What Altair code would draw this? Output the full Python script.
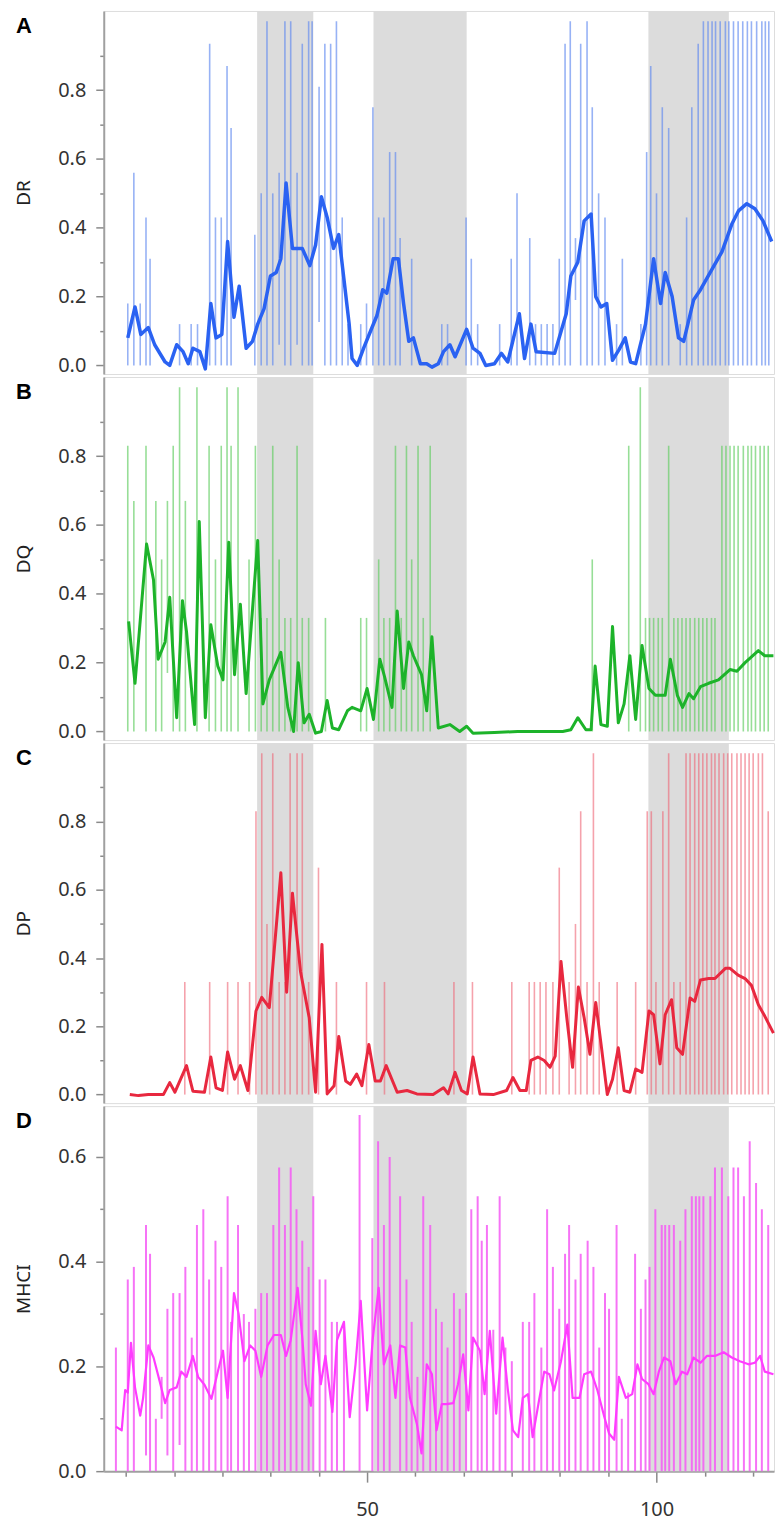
import altair as alt
import pandas as pd

X_DOMAIN = [4.5, 120.3]
BANDS = [(31.0, 40.7), (51.1, 67.2), (98.6, 112.5)]
X_TICKS = [8.333, 16.667, 25, 33.333, 41.667, 50, 58.333, 66.667, 75, 83.333, 91.667, 100, 108.333, 116.667]
Y_TICKS_ABC = [0.0, 0.1, 0.2, 0.3, 0.4, 0.5, 0.6, 0.7, 0.8, 0.9]
Y_TICKS_D = [0.0, 0.1, 0.2, 0.3, 0.4, 0.5, 0.6]

# ---- Panel A: DR ----
DR_LINE = [(8.65, 0.08), (9.9, 0.17), (10.9, 0.09), (12.2, 0.11), (13.3, 0.06), (15.1, 0.01), (15.9, 0.0),
           (17.1, 0.06), (18.2, 0.04), (19.1, 0.005), (19.9, 0.05), (21.1, 0.04), (22.05, -0.01), (23.0, 0.18),
           (23.9, 0.08), (24.9, 0.09), (25.9, 0.36), (27.0, 0.14), (27.9, 0.23), (29.1, 0.05), (30.2, 0.07),
           (31.1, 0.12), (32.2, 0.165), (33.3, 0.26), (34.3, 0.27), (35.1, 0.31), (36.0, 0.53), (37.1, 0.34),
           (38.8, 0.34), (40.1, 0.29), (41.1, 0.35), (42.1, 0.49), (43.1, 0.43), (44.2, 0.34), (45.1, 0.38),
           (46.9, 0.12), (47.4, 0.02), (48.3, 0.0), (49.4, 0.05), (50.6, 0.10), (51.7, 0.145), (52.7, 0.22),
           (53.4, 0.21), (54.5, 0.31), (55.4, 0.31), (56.3, 0.18), (57.2, 0.07), (58.0, 0.08), (59.2, 0.005),
           (60.3, 0.005), (61.2, -0.005), (62.3, 0.005), (63.2, 0.04), (64.3, 0.06), (65.2, 0.025), (67.2, 0.105),
           (68.3, 0.05), (69.5, 0.035), (70.5, 0.0), (72.0, 0.005), (73.2, 0.035), (74.3, 0.01), (76.3, 0.15),
           (77.2, 0.02), (78.3, 0.12), (79.2, 0.04), (82.4, 0.035), (84.4, 0.15), (85.2, 0.26), (86.4, 0.3),
           (87.5, 0.42), (88.7, 0.44), (89.5, 0.2), (90.4, 0.17), (91.4, 0.18), (92.4, 0.015), (93.5, 0.045),
           (94.6, 0.08), (95.5, 0.01), (96.4, 0.005), (98.1, 0.12), (99.5, 0.31), (100.7, 0.18), (101.5, 0.27),
           (102.7, 0.2), (103.8, 0.08), (104.7, 0.07), (106.4, 0.19), (107.6, 0.22), (109.6, 0.28), (111.3, 0.33),
           (113.0, 0.41), (114.2, 0.45), (115.6, 0.47), (117.0, 0.455), (118.4, 0.42), (119.9, 0.36)]
DR_BARS = [(8.65, 0.18, 0), (9.7, 0.56, 0), (10.8, 0.18, 0), (11.8, 0.43, 0), (12.5, 0.31, 0), (17.6, 0.12, 0),
           (19.6, 0.12, 0), (20.7, 0.12, 0), (22.8, 0.935, 0), (23.8, 0.43, 0), (24.8, 0.43, 0), (25.8, 0.87, 0),
           (26.5, 0.69, 0), (30.6, 0.38, 0), (31.7, 0.5, 0), (32.7, 1.0, 0), (33.7, 0.5, 0), (34.8, 0.56, 0.06),
           (35.8, 1.0, 0), (36.8, 1.0, 0), (37.9, 0.56, 0.06), (38.8, 0.935, 0), (39.9, 1.0, 0), (40.5, 1.0, 0),
           (41.7, 0.81, 0.126), (42.7, 0.935, 0), (43.7, 0.935, 0), (44.7, 1.0, 0), (45.7, 0.43, 0), (46.7, 0.12, 0),
           (48.9, 0.12, 0), (49.9, 0.18, 0), (51.0, 0.75, 0), (52.0, 0.43, 0), (52.9, 0.43, 0), (53.9, 0.62, 0),
           (54.9, 0.62, 0), (55.7, 0.37, 0), (57.7, 0.31, 0), (62.9, 0.12, 0), (63.9, 0.12, 0), (67.1, 0.43, 0),
           (68.0, 0.31, 0), (69.1, 0.12, 0), (72.9, 0.12, 0), (74.9, 0.31, 0), (75.9, 0.5, 0), (78.1, 0.37, 0),
           (79.1, 0.12, 0), (80.1, 0.12, 0), (81.1, 0.12, 0), (82.1, 0.12, 0), (83.2, 0.31, 0), (84.2, 0.935, 0),
           (85.1, 1.0, 0), (86.0, 0.37, 0.19), (86.9, 0.935, 0), (88.0, 1.0, 0), (88.9, 0.75, 0), (90.0, 0.5, 0),
           (91.1, 0.43, 0), (93.1, 0.12, 0), (94.1, 0.31, 0), (97.3, 0.12, 0), (98.3, 0.62, 0), (99.0, 0.87, 0),
           (100.0, 0.5, 0), (101.0, 0.75, 0), (102.1, 0.69, 0), (104.1, 0.12, 0), (105.2, 0.43, 0), (106.1, 0.75, 0),
           (107.2, 0.935, 0), (108.1, 1.0, 0), (108.9, 1.0, 0), (109.6, 1.0, 0), (110.2, 1.0, 0), (111.0, 1.0, 0),
           (111.9, 1.0, 0), (112.5, 1.0, 0), (113.3, 1.0, 0), (114.1, 1.0, 0), (114.9, 1.0, 0), (115.7, 1.0, 0),
           (116.4, 1.0, 0), (117.3, 1.0, 0), (118.2, 1.0, 0), (118.8, 1.0, 0), (119.4, 1.0, 0)]

# ---- Panel B: DQ ----
DQ_LINE = [(8.8, 0.32), (9.9, 0.14), (11.9, 0.545), (13.1, 0.44), (13.9, 0.21), (15.1, 0.26), (15.9, 0.39),
           (17.1, 0.04), (18.1, 0.38), (18.8, 0.29), (20.2, 0.02), (21.0, 0.61), (22.05, 0.04), (23.0, 0.31),
           (24.2, 0.19), (25.1, 0.15), (26.1, 0.55), (27.1, 0.165), (28.1, 0.37), (29.1, 0.11), (31.1, 0.555),
           (32.0, 0.08), (33.1, 0.15), (35.1, 0.23), (36.3, 0.07), (37.3, 0.0), (38.1, 0.2), (39.1, 0.025),
           (40.0, 0.05), (41.1, -0.005), (42.1, 0.0), (43.1, 0.09), (44.0, 0.01), (45.1, 0.005), (46.6, 0.06),
           (47.4, 0.07), (48.9, 0.06), (50.0, 0.125), (51.1, 0.035), (52.2, 0.21), (53.0, 0.16), (54.3, 0.07),
           (55.2, 0.35), (56.3, 0.125), (57.2, 0.26), (58.0, 0.22), (59.4, 0.165), (60.3, 0.06), (61.2, 0.275),
           (62.3, 0.01), (64.3, 0.02), (66.0, 0.0), (67.2, 0.015), (68.3, -0.005), (72.0, -0.003), (76.0, 0.0),
           (80.0, 0.0), (83.8, 0.0), (85.2, 0.005), (86.4, 0.04), (87.8, 0.005), (88.7, 0.005), (89.4, 0.19),
           (90.4, 0.02), (91.5, 0.015), (92.4, 0.305), (93.4, 0.025), (94.4, 0.08), (95.4, 0.22), (96.4, 0.035),
           (97.5, 0.25), (98.7, 0.125), (99.8, 0.105), (101.5, 0.105), (102.4, 0.21), (103.6, 0.105),
           (104.5, 0.07), (105.6, 0.11), (106.4, 0.095), (107.6, 0.13), (109.0, 0.14), (110.7, 0.15),
           (112.7, 0.18), (113.9, 0.175), (115.3, 0.2), (117.6, 0.235), (118.7, 0.22), (120.2, 0.22)]
DQ_BARS = [(8.65, 0.83, 0), (9.7, 0.67, 0), (11.8, 0.83, 0), (13.5, 0.67, 0), (14.5, 0.5, 0), (15.5, 0.67, 0.17),
           (16.5, 0.83, 0), (17.6, 1.0, 0), (18.6, 0.67, 0), (20.6, 1.0, 0), (22.7, 0.83, 0), (23.8, 0.5, 0),
           (24.8, 0.83, 0), (25.8, 1.0, 0), (26.5, 0.83, 0), (27.7, 1.0, 0), (29.6, 0.5, 0), (30.7, 0.83, 0),
           (31.7, 0.33, 0), (32.7, 0.33, 0), (33.7, 0.83, 0), (34.8, 0.5, 0), (35.8, 0.33, 0), (36.8, 0.33, 0),
           (37.9, 0.83, 0), (38.8, 0.33, 0), (39.9, 0.33, 0), (42.8, 0.33, 0), (48.9, 0.33, 0), (49.9, 0.33, 0),
           (52.0, 0.5, 0), (52.9, 0.33, 0), (53.9, 0.33, 0), (54.9, 0.83, 0), (55.9, 0.33, 0), (56.8, 0.83, 0),
           (57.7, 0.5, 0), (58.8, 0.83, 0), (59.7, 0.33, 0), (60.9, 0.83, 0), (88.9, 0.5, 0), (95.2, 0.83, 0),
           (97.2, 1.0, 0), (98.1, 0.33, 0), (98.8, 0.33, 0), (99.5, 0.33, 0), (100.3, 0.33, 0), (101.0, 0.33, 0),
           (102.1, 0.83, 0), (103.0, 0.33, 0), (103.7, 0.33, 0), (104.4, 0.33, 0), (105.1, 0.33, 0),
           (105.8, 0.33, 0), (106.6, 0.33, 0), (107.3, 0.33, 0), (108.0, 0.33, 0), (108.7, 0.33, 0),
           (109.5, 0.33, 0), (110.1, 0.33, 0), (111.3, 0.83, 0), (112.0, 0.83, 0), (112.7, 0.83, 0),
           (113.4, 0.83, 0), (114.1, 0.83, 0), (115.0, 0.83, 0), (115.8, 0.83, 0), (116.4, 0.83, 0),
           (117.1, 0.83, 0), (117.9, 0.83, 0), (118.6, 0.83, 0), (119.3, 0.83, 0)]

# ---- Panel C: DP ----
DP_LINE = [(9.0, 0.0), (10.5, -0.003), (12.2, 0.0), (14.8, 0.0), (15.9, 0.035), (16.8, 0.007), (18.8, 0.085),
           (19.9, 0.01), (21.9, 0.007), (23.0, 0.11), (23.9, 0.02), (25.0, 0.012), (25.9, 0.125), (27.1, 0.045),
           (28.1, 0.085), (29.4, 0.012), (30.8, 0.245), (31.8, 0.285), (33.1, 0.255), (35.1, 0.65), (36.1, 0.30),
           (37.1, 0.59), (38.5, 0.36), (40.0, 0.225), (41.1, 0.007), (42.2, 0.44), (43.1, 0.002), (44.3, 0.026),
           (45.1, 0.17), (46.3, 0.04), (47.1, 0.03), (48.2, 0.06), (49.1, 0.026), (50.3, 0.147), (51.4, 0.04),
           (52.3, 0.04), (53.3, 0.085), (55.2, 0.007), (56.9, 0.012), (58.6, 0.002), (61.4, 0.0), (63.2, 0.02),
           (64.0, 0.002), (65.2, 0.065), (66.3, 0.012), (67.3, 0.002), (68.3, 0.11), (69.5, 0.002), (71.8, 0.0),
           (74.1, 0.012), (75.2, 0.05), (76.4, 0.012), (77.5, 0.012), (78.3, 0.1), (79.5, 0.11), (80.6, 0.1),
           (81.6, 0.08), (82.5, 0.113), (83.5, 0.39), (84.5, 0.225), (85.5, 0.08), (86.5, 0.315), (87.5, 0.225),
           (88.5, 0.118), (89.5, 0.27), (90.5, 0.137), (91.5, 0.0), (92.4, 0.045), (93.4, 0.137), (94.4, 0.012),
           (95.4, 0.007), (96.4, 0.075), (97.5, 0.065), (98.7, 0.245), (99.5, 0.234), (100.6, 0.09),
           (101.5, 0.234), (102.6, 0.278), (103.5, 0.137), (104.5, 0.118), (105.8, 0.283), (106.6, 0.273),
           (107.6, 0.336), (109.0, 0.34), (110.1, 0.34), (111.9, 0.37), (112.7, 0.37), (114.1, 0.35),
           (115.3, 0.34), (116.4, 0.32), (117.6, 0.263), (118.7, 0.23), (120.2, 0.18)]
DP_BARS = [(18.5, 0.33, 0), (22.8, 0.33, 0), (25.9, 0.33, 0), (27.7, 0.33, 0), (29.7, 0.33, 0), (30.8, 0.83, 0),
           (31.8, 1.0, 0), (32.7, 0.5, 0), (33.7, 1.0, 0), (34.8, 0.33, 0), (35.8, 0.33, 0), (36.7, 1.0, 0),
           (37.9, 1.0, 0), (38.8, 1.0, 0), (39.9, 0.33, 0), (41.6, 0.665, 0), (44.7, 0.33, 0), (49.9, 0.33, 0),
           (53.0, 0.33, 0), (65.0, 0.33, 0), (68.2, 0.33, 0), (75.0, 0.33, 0), (78.0, 0.33, 0), (78.9, 0.33, 0),
           (79.9, 0.33, 0), (80.9, 0.33, 0), (82.1, 0.33, 0), (83.2, 0.665, 0), (84.9, 0.33, 0), (86.0, 0.5, 0),
           (86.9, 0.83, 0), (88.0, 0.33, 0), (89.1, 1.0, 0), (90.1, 0.33, 0), (93.2, 0.33, 0), (96.4, 0.33, 0),
           (98.4, 0.83, 0), (99.1, 0.83, 0), (99.9, 0.33, 0), (101.1, 0.83, 0), (102.1, 1.0, 0), (103.0, 0.33, 0),
           (104.1, 0.33, 0), (105.1, 1.0, 0), (105.8, 1.0, 0), (106.6, 1.0, 0), (107.3, 1.0, 0), (108.0, 1.0, 0),
           (108.7, 1.0, 0), (109.5, 1.0, 0), (110.1, 1.0, 0), (110.8, 1.0, 0), (111.6, 1.0, 0), (112.3, 1.0, 0),
           (113.0, 1.0, 0), (113.9, 1.0, 0), (114.6, 1.0, 0), (115.3, 1.0, 0), (116.0, 1.0, 0), (116.7, 1.0, 0),
           (117.6, 1.0, 0), (118.3, 1.0, 0), (119.3, 0.83, 0)]

# ---- Panel D: MHCI ----
MHC_LINE = [(6.6, 0.085), (7.6, 0.078), (8.2, 0.155), (8.65, 0.15), (9.2, 0.245), (9.9, 0.16), (10.8, 0.106),
            (11.3, 0.14), (12.2, 0.24), (13.1, 0.217), (14.2, 0.17), (15.1, 0.13), (15.9, 0.155), (17.1, 0.16),
            (17.9, 0.19), (18.8, 0.18), (19.9, 0.22), (20.8, 0.18), (21.9, 0.165), (23.1, 0.138), (24.2, 0.19),
            (25.1, 0.23), (25.9, 0.14), (27.0, 0.34), (27.8, 0.30), (28.8, 0.21), (29.8, 0.24), (30.7, 0.23),
            (31.7, 0.18), (32.8, 0.24), (33.9, 0.26), (35.1, 0.26), (36.0, 0.22), (36.8, 0.25), (38.0, 0.35),
            (38.8, 0.255), (39.4, 0.166), (40.3, 0.125), (41.1, 0.268), (42.0, 0.166), (42.8, 0.22), (44.0, 0.113),
            (44.8, 0.25), (46.0, 0.285), (47.0, 0.103), (48.0, 0.204), (48.9, 0.325), (50.0, 0.116), (51.0, 0.255),
            (52.0, 0.35), (52.9, 0.204), (54.0, 0.24), (54.9, 0.14), (55.7, 0.24), (56.6, 0.236), (57.4, 0.14),
            (58.6, 0.09), (59.4, 0.034), (60.3, 0.204), (61.2, 0.185), (62.0, 0.078), (62.9, 0.128), (63.7, 0.128),
            (64.9, 0.13), (65.7, 0.166), (66.6, 0.223), (67.5, 0.116), (68.3, 0.255), (69.5, 0.23), (70.3, 0.147),
            (71.2, 0.268), (72.3, 0.11), (73.4, 0.255), (74.3, 0.157), (75.2, 0.078), (76.1, 0.065), (76.9, 0.14),
            (77.8, 0.147), (78.6, 0.065), (79.7, 0.135), (80.6, 0.19), (81.5, 0.185), (82.3, 0.154), (83.5, 0.21),
            (84.6, 0.28), (85.5, 0.14), (86.7, 0.14), (87.5, 0.185), (88.7, 0.19), (89.8, 0.154), (91.0, 0.103),
            (91.8, 0.072), (92.7, 0.06), (93.5, 0.18), (94.7, 0.14), (95.8, 0.147), (96.7, 0.204), (97.5, 0.176),
            (98.6, 0.166), (99.5, 0.147), (100.4, 0.19), (101.3, 0.217), (102.4, 0.21), (103.3, 0.166),
            (104.4, 0.19), (105.3, 0.185), (106.4, 0.217), (107.6, 0.207), (108.7, 0.22), (110.1, 0.22),
            (111.6, 0.227), (113.0, 0.217), (114.4, 0.21), (115.9, 0.204), (117.0, 0.207), (117.9, 0.22),
            (118.7, 0.19), (120.2, 0.185)]
MHC_BARS = [(6.6, 0.236, 0), (8.65, 0.366, 0), (9.7, 0.39, 0), (11.8, 0.47, 0.03), (12.5, 0.415, 0),
            (13.5, 0.10, 0), (14.5, 0.18, 0.10), (15.5, 0.31, 0.03), (16.5, 0.34, 0), (17.6, 0.34, 0.05),
            (18.6, 0.39, 0), (19.7, 0.255, 0), (20.6, 0.47, 0), (21.7, 0.5, 0), (22.7, 0.366, 0), (23.8, 0.44, 0),
            (24.8, 0.39, 0), (25.9, 0.525, 0), (26.5, 0.285, 0), (27.7, 0.47, 0), (28.7, 0.3, 0), (29.6, 0.285, 0),
            (30.7, 0.31, 0), (31.7, 0.34, 0), (32.7, 0.34, 0), (33.8, 0.47, 0), (34.8, 0.58, 0), (35.8, 0.47, 0),
            (36.8, 0.58, 0), (37.8, 0.5, 0), (38.8, 0.44, 0), (39.9, 0.39, 0), (40.7, 0.525, 0), (41.8, 0.366, 0),
            (42.8, 0.366, 0), (43.9, 0.285, 0), (44.8, 0.285, 0), (46.0, 0.285, 0), (48.7, 0.68, 0),
            (50.9, 0.445, 0), (51.9, 0.63, 0), (52.9, 0.47, 0), (53.9, 0.6, 0), (55.7, 0.525, 0), (56.8, 0.366, 0),
            (57.7, 0.285, 0), (58.7, 0.18, 0), (59.7, 0.525, 0), (60.9, 0.47, 0), (61.9, 0.31, 0), (62.9, 0.285, 0),
            (63.9, 0.236, 0), (65.0, 0.34, 0), (66.0, 0.31, 0), (67.1, 0.34, 0), (68.0, 0.5, 0), (69.1, 0.525, 0),
            (69.8, 0.44, 0), (70.7, 0.47, 0), (71.8, 0.27, 0), (72.9, 0.525, 0), (73.9, 0.236, 0), (75.0, 0.21, 0),
            (76.9, 0.285, 0), (78.0, 0.285, 0), (78.9, 0.34, 0), (80.1, 0.236, 0), (81.1, 0.5, 0), (82.1, 0.39, 0),
            (83.2, 0.31, 0), (84.2, 0.415, 0), (84.9, 0.47, 0), (86.0, 0.366, 0), (86.9, 0.415, 0), (88.1, 0.44, 0),
            (89.1, 0.39, 0), (90.1, 0.236, 0), (91.1, 0.34, 0), (91.8, 0.31, 0), (93.1, 0.47, 0), (94.0, 0.1, 0),
            (95.1, 0.15, 0), (96.3, 0.415, 0), (97.3, 0.31, 0), (98.1, 0.366, 0), (98.8, 0.39, 0), (99.8, 0.5, 0),
            (100.9, 0.47, 0), (101.5, 0.47, 0), (102.2, 0.47, 0), (103.0, 0.47, 0), (104.1, 0.44, 0),
            (105.0, 0.5, 0), (106.1, 0.525, 0), (106.8, 0.525, 0), (107.4, 0.525, 0), (108.1, 0.525, 0),
            (109.3, 0.525, 0), (110.1, 0.58, 0), (111.3, 0.58, 0), (112.4, 0.525, 0), (113.3, 0.58, 0),
            (114.1, 0.58, 0), (115.1, 0.525, 0), (116.1, 0.63, 0), (117.2, 0.55, 0), (118.2, 0.5, 0),
            (119.3, 0.47, 0)]

FONT = "Noto Sans"
WIDTH = 672


def y_axis(title, ticks):
    major = "abs(datum.value * 5 - round(datum.value * 5)) < 0.01"
    return alt.Axis(
        values=ticks, title=title, grid=False,
        labelExpr=f"({major}) ? format(datum.value, '.1f') : ''",
        tickSize={"condition": {"test": major, "value": 8}, "value": 4},
        tickColor="#8a8a8a", tickWidth=1.5,
        domainColor="#a0a0a0", domainWidth=2,
        labelFont=FONT, labelFontSize=20, labelColor="#333333", labelPadding=10,
        titleFont=FONT, titleFontSize=19, titleFontWeight="normal", titleColor="#222222",
        titlePadding=24,
    )


def x_axis():
    major = "abs(datum.value - 50) < 0.5 || abs(datum.value - 100) < 0.5"
    return alt.Axis(
        values=X_TICKS, title=None, grid=False,
        labelExpr=f"({major}) ? format(datum.value, 'd') : ''",
        tickSize={"condition": {"test": major, "value": 11}, "value": 5},
        tickColor="#8a8a8a", tickWidth=1.5,
        domainColor="#a0a0a0", domainWidth=2,
        labelFont=FONT, labelFontSize=20, labelColor="#333333", labelPadding=17,
    )


def panel(line, bars, title, letter, line_color, line_width, bar_color, bar_opacity, bar_width,
          ydomain, yticks, height, show_x):
    line_df = pd.DataFrame(line, columns=["x", "y"])
    bar_df = pd.DataFrame(bars, columns=["x", "hi", "lo"])
    band_df = pd.DataFrame(BANDS, columns=["x0", "x1"])
    xs = alt.Scale(domain=X_DOMAIN, nice=False, zero=False)
    ys = alt.Scale(domain=ydomain, nice=False, zero=False)
    xa = x_axis() if show_x else None
    ya = y_axis(title, yticks)

    bands = alt.Chart(band_df).mark_rect(color="#dcdcdc").encode(
        x=alt.X("x0:Q", scale=xs, axis=xa), x2="x1:Q",
        y=alt.value(0), y2=alt.value(height),
    )
    rules = alt.Chart(bar_df).mark_rule(color=bar_color, opacity=bar_opacity, strokeWidth=bar_width).encode(
        x=alt.X("x:Q", scale=xs, axis=xa),
        y=alt.Y("lo:Q", scale=ys, axis=ya), y2="hi:Q",
    )
    ln = alt.Chart(line_df).mark_line(color=line_color, strokeWidth=line_width, strokeJoin="round").encode(
        x=alt.X("x:Q", scale=xs, axis=xa),
        y=alt.Y("y:Q", scale=ys, axis=ya),
    )
    lab = alt.Chart(pd.DataFrame({"t": [letter]})).mark_text(
        font="Liberation Sans", fontSize=22, fontWeight="bold", color="#000000",
        align="center", baseline="alphabetic",
    ).encode(text="t:N", x=alt.value(-80), y=alt.value(22))
    return alt.layer(bands, rules, ln, lab).properties(width=WIDTH, height=height)


pA = panel(DR_LINE, DR_BARS, "DR", "A", "#2a62f2", 3.5, "#5f88ef", 0.65, 1.6,
           [-0.025, 1.03], Y_TICKS_ABC, 364, False)
pB = panel(DQ_LINE, DQ_BARS, "DQ", "B", "#1db32a", 3, "#5fcc5f", 0.65, 1.6,
           [-0.025, 1.03], Y_TICKS_ABC, 364, False)
pC = panel(DP_LINE, DP_BARS, "DP", "C", "#e8283f", 3, "#ee6474", 0.6, 1.6,
           [-0.025, 1.03], Y_TICKS_ABC, 361, False)
pD = panel(MHC_LINE, MHC_BARS, "MHCI", "D", "#ff3cff", 2.2, "#f55af5", 0.85, 2,
           [0, 0.697], Y_TICKS_D, 366, True)

chart = alt.vconcat(pA, pB, pC, pD, spacing=3, bounds="flush").properties(
    padding={"left": 6, "top": 0, "right": 0, "bottom": 0}
).configure_view(stroke="#c4c4c4", strokeWidth=2).configure(background="white")

chart.save("out.html", embed_options={"renderer": "svg", "actions": False})
